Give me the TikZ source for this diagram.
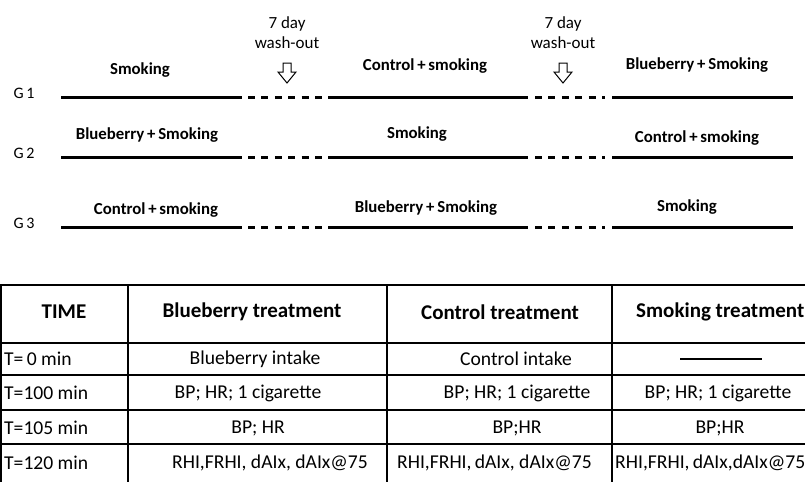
\documentclass[tikz,border=0pt]{standalone}
\usepackage{fontspec}
\setmainfont{Carlito}
\tikzset{
  period/.style={line width=3pt},
  washgap/.style={line width=3pt, dash pattern=on 7pt off 6.4pt},
  armlabel/.style={font=\bfseries\fontsize{16.8}{18}\selectfont, inner sep=0pt},
  grouplabel/.style={font=\fontsize{16}{18}\selectfont, inner sep=0pt},
  washlabel/.style={font=\fontsize{17}{20}\selectfont, align=center, inner sep=0pt},
  washarrow/.style={draw=black, line width=1pt, fill=white},
  grid/.style={line width=2pt},
  headcell/.style={font=\bfseries\fontsize{21}{23}\selectfont, inner sep=0pt},
  cell/.style={font=\fontsize{19.6}{21}\selectfont, inner sep=0pt}
}
\begin{document}
\begin{tikzpicture}[x=1pt, y=-1pt]
\useasboundingbox (0,0) rectangle (805,482);
% timelines
\foreach \g/\y in {1/97, 2/157, 3/227} {
  \node[grouplabel] (g\g) at (24,\y-4) {G\,\g};
  \draw[period] (61,\y) -- (242,\y);
  \draw[washgap] (248,\y) -- (322,\y);
  \draw[period] (328,\y) -- (528,\y);
  \draw[washgap] (535,\y) -- (605,\y);
  \draw[period] (612,\y) -- (793,\y);
}
\node[armlabel] (g1a) at (140,70) {Smoking};
\node[armlabel] (g1b) at (425,66) {Control\,+\,smoking};
\node[armlabel] (g1c) at (697,65) {Blueberry\,+\,Smoking};
\node[armlabel] (g2a) at (147,135) {Blueberry\,+\,Smoking};
\node[armlabel] (g2b) at (417,134) {Smoking};
\node[armlabel] (g2c) at (697,138) {Control\,+\,smoking};
\node[armlabel] (g3a) at (156,210) {Control\,+\,smoking};
\node[armlabel] (g3b) at (426,208) {Blueberry\,+\,Smoking};
\node[armlabel] (g3c) at (687,207) {Smoking};
% wash-out
\foreach \n/\x in {1/287, 2/563} {
  \node[washlabel] (wash\n) at (\x,33) {7 day\\wash-out};
  \draw[washarrow] (\x-4,63) -- (\x+4,63) -- (\x+4,72) -- (\x+9,72) -- (\x,83)
    -- (\x-9,72) -- (\x-4,72) -- cycle;
}
% table
\foreach \y in {285, 343, 375, 410, 444} \draw[grid] (0,\y) -- (805,\y);
\foreach \x in {1, 128, 387, 612} \draw[grid] (\x,285) -- (\x,482);
\node[headcell] (htime) at (64,312) {TIME};
\node[headcell] (hblue) at (252,312) {Blueberry treatment};
\node[headcell] (hcont) at (500,312) {Control treatment};
\node[headcell, anchor=west] (hsmok) at (636,312) {Smoking treatment};
\node[cell, anchor=west] (t0) at (4,359) {T=\,0 min};
\node[cell, anchor=west] (t100) at (4,393) {T=100 min};
\node[cell, anchor=west] (t105) at (4,428) {T=105 min};
\node[cell, anchor=west] (t120) at (4,463) {T=120 min};
\node[cell] (b0) at (255,359) {Blueberry intake};
\node[cell] (b100) at (248,393) {BP; HR; 1 cigarette};
\node[cell] (b105) at (258,428) {BP; HR};
\node[cell] (b120) at (270,463) {RHI,FRHI, dAIx, dAIx@75};
\node[cell] (c0) at (516,359) {Control intake};
\node[cell] (c100) at (517,393) {BP; HR; 1 cigarette};
\node[cell] (c105) at (517,428) {BP;HR};
\node[cell, anchor=west] (c120) at (397,463) {RHI,FRHI,\,dAIx, dAIx@75};
\draw[line width=1.2pt] (680,359) -- (762,359);
\node[cell] (s100) at (718,393) {BP; HR; 1 cigarette};
\node[cell] (s105) at (720,428) {BP;HR};
\node[cell, anchor=west] (s120) at (615,463) {RHI,FRHI,\,dAIx,dAIx@75};
\end{tikzpicture}
\end{document}
